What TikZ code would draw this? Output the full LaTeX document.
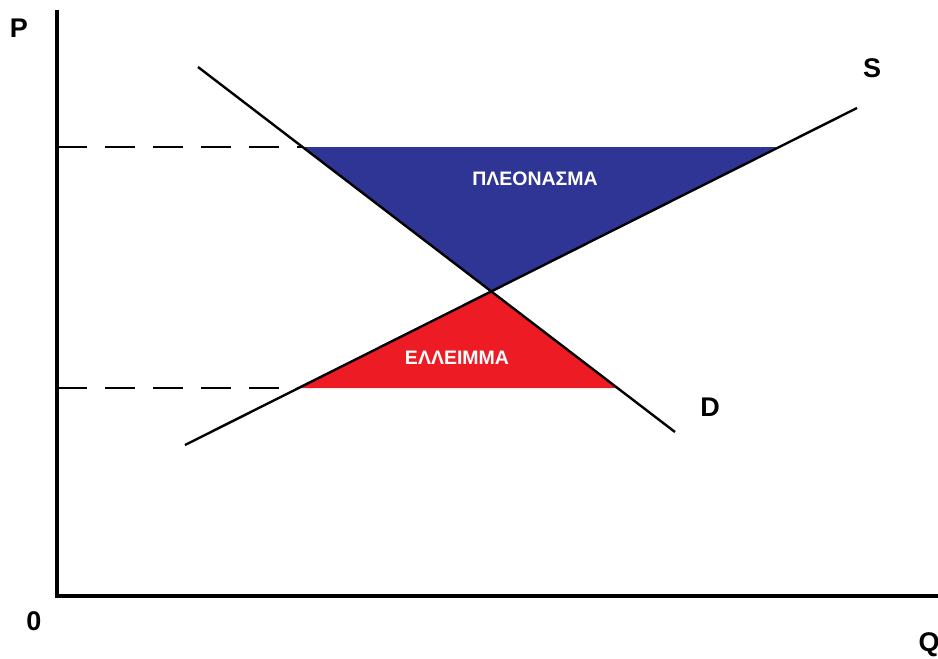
\documentclass[tikz,border=0pt]{standalone}
\usepackage{fontspec}
\setmainfont{Liberation Sans}
\definecolor{surplus}{RGB}{46,53,148}
\definecolor{shortage}{RGB}{237,28,36}
\tikzset{
  axisline/.style={line width=4pt},
  curve/.style={line width=2.4pt},
  priceline/.style={line width=1.3pt, dash pattern=on 30pt off 18pt},
  axlabel/.style={font=\bfseries\fontsize{27}{30}\selectfont, inner sep=0pt},
  arealabel/.style={font=\bfseries\fontsize{19.5}{22}\selectfont, text=white, inner sep=0pt}
}
\begin{document}
\begin{tikzpicture}[x=1pt,y=-1pt]
\useasboundingbox (0,0) rectangle (938,659);
% key points
\coordinate (O) at (57,596);
\coordinate (Ptop) at (57,10);
\coordinate (Qend) at (938,596);
\coordinate (Dstart) at (198,67);
\coordinate (Dend) at (675,432);
\coordinate (Sstart) at (185,445);
\coordinate (Send) at (857,108);
\coordinate (E) at (492,292);
\coordinate (Dhi) at (303,147);
\coordinate (Shi) at (779,147);
\coordinate (Slo) at (299,388);
\coordinate (Dlo) at (618,388);
\coordinate (Ahi) at (57,147);
\coordinate (Alo) at (57,388);
% areas
\fill[surplus] (Dhi) -- (Shi) -- (E) -- cycle;
\fill[shortage] (Slo) -- (Dlo) -- (E) -- cycle;
% dashed price lines
\draw[priceline] (Ahi) -- (Dhi);
\draw[priceline] (Alo) -- (Slo);
% curves
\draw[curve] (Dstart) -- (Dend);
\draw[curve] (Sstart) -- (Send);
% axes
\draw[axisline] (Ptop) -- (O) -- (Qend);
% labels
\node[axlabel] (P) at (19,28) {P};
\node[axlabel] (zero) at (34,621) {0};
\node[axlabel] (Q) at (929,645) {Q};
\node[axlabel] (Slab) at (872,68) {S};
\node[axlabel] (Dlab) at (710,407) {D};
\node[arealabel] (pleon) at (535,179) {ΠΛΕΟΝΑΣΜΑ};
\node[arealabel] (ell) at (457,358) {ΕΛΛΕΙΜΜΑ};
\end{tikzpicture}
\end{document}
